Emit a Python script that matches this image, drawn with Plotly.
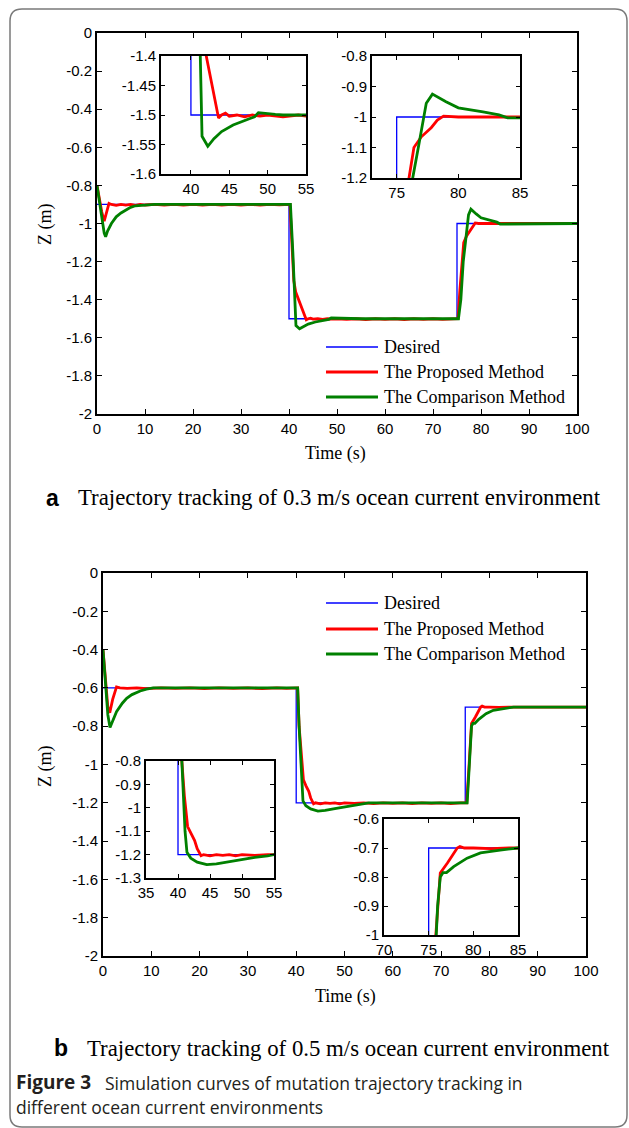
import plotly.graph_objects as go

W, H = 629, 1128


def px(x):
    return x / W


def py(y):
    return 1 - y / H


# ---------------- Panel (a): 0.3 m/s ocean current ----------------
t_des_a = [0, 40, 40, 75, 75, 100]
z_des_a = [-0.9, -0.9, -1.5, -1.5, -1.0, -1.0]

t_pro_a = [0, 0.5, 1.0, 1.5, 2.0, 2.5, 3, 4, 5, 6,
           7, 8, 9, 10, 12, 14, 16, 18, 20, 22,
           24, 26, 28, 30, 32, 34, 36, 38, 40.2, 40.6,
           41.0, 41.4, 42.0, 42.6, 43.2, 43.6, 44.0, 44.5, 45, 46,
           47, 48, 49, 50, 52, 54, 56, 58, 60, 62,
           64, 66, 68, 70, 72, 74, 75.2, 75.6, 76.0, 76.4,
           77.0, 77.8, 78.3, 78.8, 79.5, 80, 82, 84, 86, 88,
           90, 95, 100]
z_pro_a = [-0.8, -0.87, -0.94, -0.987, -0.94, -0.895, -0.9, -0.905, -0.9, -0.903,
           -0.9, -0.905, -0.9, -0.903, -0.9, -0.904, -0.9, -0.903, -0.9, -0.904,
           -0.9, -0.903, -0.9, -0.904, -0.9, -0.903, -0.9, -0.902, -0.9, -1.1,
           -1.3, -1.36, -1.4, -1.44, -1.48, -1.505, -1.5, -1.497, -1.502, -1.5,
           -1.503, -1.5, -1.502, -1.5, -1.503, -1.5, -1.504, -1.5, -1.503, -1.5,
           -1.504, -1.5, -1.503, -1.5, -1.503, -1.5, -1.5, -1.35, -1.2, -1.1,
           -1.065, -1.035, -1.01, -0.997, -1.0, -1.0, -1.0, -1.0, -1.0, -1.0,
           -1.0, -1.0, -1.0]

t_cmp_a = [0, 0.5, 1.0, 1.5, 1.8, 2.2, 3, 4, 5, 6,
           7, 8, 10, 12, 15, 20, 25, 30, 35, 40.3,
           40.8, 41.25, 41.45, 42.2, 43, 44, 45.5, 47.7, 48.3, 48.8,
           50, 51, 52, 55, 60, 65, 70, 75.3, 75.8, 76.3,
           76.8, 77.4, 77.9, 78.5, 79, 80, 81, 82, 83.3, 84,
           85, 90, 100]
z_cmp_a = [-0.8, -0.88, -0.97, -1.05, -1.07, -1.04, -1.0, -0.965, -0.945, -0.928,
           -0.915, -0.907, -0.902, -0.9, -0.9, -0.9, -0.9, -0.9, -0.9, -0.9,
           -1.15, -1.4, -1.536, -1.553, -1.54, -1.528, -1.517, -1.506, -1.503, -1.496,
           -1.497, -1.499, -1.5, -1.5, -1.5, -1.5, -1.5, -1.5, -1.4, -1.2,
           -1.09, -0.955, -0.925, -0.94, -0.95, -0.97, -0.976, -0.983, -0.993, -1.003,
           -1.003, -1.0, -1.0]

# ---------------- Panel (b): 0.5 m/s ocean current ----------------
t_des_b = [0, 40, 40, 75, 75, 100]
z_des_b = [-0.6, -0.6, -1.2, -1.2, -0.7, -0.7]

t_pro_b = [0, 0.5, 1.0, 1.4, 2.0, 2.8, 3.5, 5, 7, 9,
           12, 15, 18, 21, 24, 27, 30, 33, 36, 38,
           40.3, 40.6, 41.0, 41.5, 42.0, 42.6, 43.0, 43.6, 44, 45,
           46, 47, 48, 49, 50, 52, 54, 56, 58, 60,
           62, 64, 66, 68, 70, 72, 74, 75.3, 75.8, 76.3,
           77.1, 78.2, 78.5, 79, 80, 82, 84, 86, 90, 100]
z_pro_b = [-0.4, -0.55, -0.7, -0.73, -0.66, -0.595, -0.6, -0.603, -0.6, -0.604,
           -0.6, -0.603, -0.6, -0.604, -0.6, -0.603, -0.6, -0.604, -0.6, -0.602,
           -0.6, -0.8, -0.95, -1.08, -1.11, -1.14, -1.175, -1.205, -1.2, -1.205,
           -1.2, -1.203, -1.2, -1.205, -1.2, -1.203, -1.2, -1.204, -1.2, -1.203,
           -1.2, -1.204, -1.2, -1.203, -1.2, -1.204, -1.2, -1.2, -1.0, -0.786,
           -0.752, -0.7, -0.695, -0.7, -0.7, -0.702, -0.7, -0.7, -0.7, -0.7]

t_cmp_b = [0, 0.5, 1.0, 1.45, 2.0, 2.8, 4.0, 4.9, 6, 7.7,
           9, 10.4, 12, 15, 20, 25, 30, 35, 40.3, 40.6,
           40.9, 41.1, 41.4, 42.0, 43, 44.5, 46, 48, 50, 52,
           54, 55, 58, 62, 66, 70, 75.4, 75.85, 76.0, 76.3,
           76.6, 77, 77.8, 79.3, 80.8, 83, 84.4, 85, 90, 100]
z_cmp_b = [-0.4, -0.56, -0.74, -0.807, -0.77, -0.724, -0.68, -0.654, -0.635, -0.616,
           -0.606, -0.6, -0.6, -0.6, -0.6, -0.6, -0.6, -0.6, -0.6, -0.8,
           -0.95, -1.1, -1.19, -1.215, -1.232, -1.243, -1.24, -1.23, -1.222, -1.212,
           -1.205, -1.2, -1.2, -1.2, -1.2, -1.2, -1.2, -1.0, -0.9, -0.8,
           -0.785, -0.785, -0.764, -0.735, -0.717, -0.707, -0.703, -0.7, -0.7, -0.7]

series_names = ["Desired", "The Proposed Method", "The Comparison Method"]
series_colors = ["#0000ff", "#ff0000", "#008000"]
series_widths = [1.3, 2.8, 2.8]

# tick labels
main_x_ticks = [0, 10, 20, 30, 40, 50, 60, 70, 80, 90, 100]
main_y_ticks = [0, -0.2, -0.4, -0.6, -0.8, -1, -1.2, -1.4, -1.6, -1.8, -2]
main_y_text = ["0", "-0.2", "-0.4", "-0.6", "-0.8", "-1", "-1.2", "-1.4", "-1.6", "-1.8", "-2"]

a1_x_ticks = [40, 45, 50, 55]
a1_y_ticks = [-1.4, -1.45, -1.5, -1.55, -1.6]
a1_y_text = ["-1.4", "-1.45", "-1.5", "-1.55", "-1.6"]
a2_x_ticks = [75, 80, 85]
a2_y_ticks = [-0.8, -0.9, -1, -1.1, -1.2]
a2_y_text = ["-0.8", "-0.9", "-1", "-1.1", "-1.2"]
b1_x_ticks = [35, 40, 45, 50, 55]
b1_y_ticks = [-0.8, -0.9, -1, -1.1, -1.2, -1.3]
b1_y_text = ["-0.8", "-0.9", "-1", "-1.1", "-1.2", "-1.3"]
b2_x_ticks = [70, 75, 80, 85]
b2_y_ticks = [-0.6, -0.7, -0.8, -0.9, -1]
b2_y_text = ["-0.6", "-0.7", "-0.8", "-0.9", "-1"]

fig = go.Figure()

panel_a = [(t_des_a, z_des_a), (t_pro_a, z_pro_a), (t_cmp_a, z_cmp_a)]
panel_b = [(t_des_b, z_des_b), (t_pro_b, z_pro_b), (t_cmp_b, z_cmp_b)]

for data, axes in [(panel_a, ["1", "2", "3"]), (panel_b, ["4", "5", "6"])]:
    for ax in axes:
        suffix = "" if ax == "1" else ax
        for (t, z), name, col, w in zip(data, series_names, series_colors, series_widths):
            fig.add_trace(go.Scatter(
                x=t, y=z, mode="lines", name=name,
                line=dict(color=col, width=w),
                xaxis="x" + suffix, yaxis="y" + suffix,
                showlegend=False, hoverinfo="skip"))

tickfont = dict(family="Liberation Sans, Arial, sans-serif", size=15, color="black")


def axis(dom, rng, tv, tt, anchor, ticklen=5):
    return dict(domain=dom, range=rng, tickvals=tv, ticktext=tt, anchor=anchor,
                showline=True, linecolor="black", linewidth=2, mirror="ticks",
                ticks="inside", ticklen=ticklen, tickwidth=1.3, tickcolor="black",
                showgrid=False, zeroline=False, tickfont=tickfont, fixedrange=True,
                automargin=False)


def xd(l, r):
    return [px(l), px(r)]


def yd(t, b):
    return [py(b), py(t)]


mx_text = [str(v) for v in main_x_ticks]

layout_axes = dict(
    xaxis=axis(xd(97, 577), [0, 100], main_x_ticks, mx_text, "y"),
    yaxis=axis(yd(33, 414), [-2, 0], main_y_ticks, main_y_text, "x"),
    xaxis2=axis(xd(161, 306), [36.1, 55], a1_x_ticks, [str(v) for v in a1_x_ticks], "y2", 4),
    yaxis2=axis(yd(56, 174), [-1.6, -1.4], a1_y_ticks, a1_y_text, "x2", 4),
    xaxis3=axis(xd(372, 520), [73, 85], a2_x_ticks, [str(v) for v in a2_x_ticks], "y3", 4),
    yaxis3=axis(yd(56, 178), [-1.2, -0.8], a2_y_ticks, a2_y_text, "x3", 4),
    xaxis4=axis(xd(103, 586), [0, 100], main_x_ticks, mx_text, "y4"),
    yaxis4=axis(yd(573, 956), [-2, 0], main_y_ticks, main_y_text, "x4"),
    xaxis5=axis(xd(146, 274), [35, 55], b1_x_ticks, [str(v) for v in b1_x_ticks], "y5", 4),
    yaxis5=axis(yd(761, 878), [-1.3, -0.8], b1_y_ticks, b1_y_text, "x5", 4),
    xaxis6=axis(xd(384, 518), [70, 85], b2_x_ticks, [str(v) for v in b2_x_ticks], "y6", 4),
    yaxis6=axis(yd(819, 935), [-1, -0.6], b2_y_ticks, b2_y_text, "x6", 4),
)

serif = "Liberation Serif, Times New Roman, serif"
sans = "Liberation Sans, Arial, sans-serif"
capfont = "Open Sans, Noto Sans, sans-serif"
annotations = []
shapes = []


def ann(x, y, text, size, family, xanchor="left", angle=0, color="black"):
    annotations.append(dict(x=px(x), y=py(y), xref="paper", yref="paper", text=text,
                            showarrow=False, xanchor=xanchor, yanchor="middle",
                            textangle=angle, font=dict(family=family, size=size, color=color)))


# axis titles
ann(45, 225, "Z (m)", 18, serif, "center", -90)
ann(335, 453, "Time (s)", 18, serif, "center")
ann(45, 767, "Z (m)", 18, serif, "center", -90)
ann(345, 996, "Time (s)", 18, serif, "center")

# legends (drawn as keys)
for rows in [[347, 372, 397], [603, 629, 654]]:
    for yy, name, col, w in zip(rows, series_names, series_colors, series_widths):
        shapes.append(dict(type="line", xref="paper", yref="paper",
                           x0=px(326), x1=px(378), y0=py(yy), y1=py(yy),
                           line=dict(color=col, width=w)))
        ann(382, yy, name, 18, serif)

# captions
ann(44, 498, "<b>a</b>", 23, sans)
ann(76, 498, "Trajectory tracking of 0.3 m/s ocean current environment", 22.8, serif)
ann(52, 1048, "<b>b</b>", 23, sans)
ann(85, 1048, "Trajectory tracking of 0.5 m/s ocean current environment", 22.8, serif)
ann(14, 1082, "<b>Figure 3</b>", 19, capfont, color="#231f20")
ann(103, 1083, "Simulation curves of mutation trajectory tracking in", 17.5, capfont, color="#231f20")
ann(14, 1107, "different ocean current environments", 17.5, capfont, color="#231f20")

# rounded frame
L, R, T, B, rr = 10, 627, 9, 1127, 12
path = (f"M {px(L + rr)},{py(T)} L {px(R - rr)},{py(T)} Q {px(R)},{py(T)} {px(R)},{py(T + rr)} "
        f"L {px(R)},{py(B - rr)} Q {px(R)},{py(B)} {px(R - rr)},{py(B)} "
        f"L {px(L + rr)},{py(B)} Q {px(L)},{py(B)} {px(L)},{py(B - rr)} "
        f"L {px(L)},{py(T + rr)} Q {px(L)},{py(T)} {px(L + rr)},{py(T)} Z")
shapes.append(dict(type="path", xref="paper", yref="paper", path=path,
                   line=dict(color="#7a7a7a", width=1.5), layer="below"))

fig.update_layout(
    width=W, height=H, autosize=False,
    margin=dict(l=0, r=0, t=0, b=0, pad=0, autoexpand=False),
    paper_bgcolor="white", plot_bgcolor="white",
    showlegend=False,
    annotations=annotations, shapes=shapes,
    **layout_axes)

fig.write_html("out.html", config={"displayModeBar": False},
               post_script="document.body.style.margin='0';document.body.style.overflow='hidden';")
